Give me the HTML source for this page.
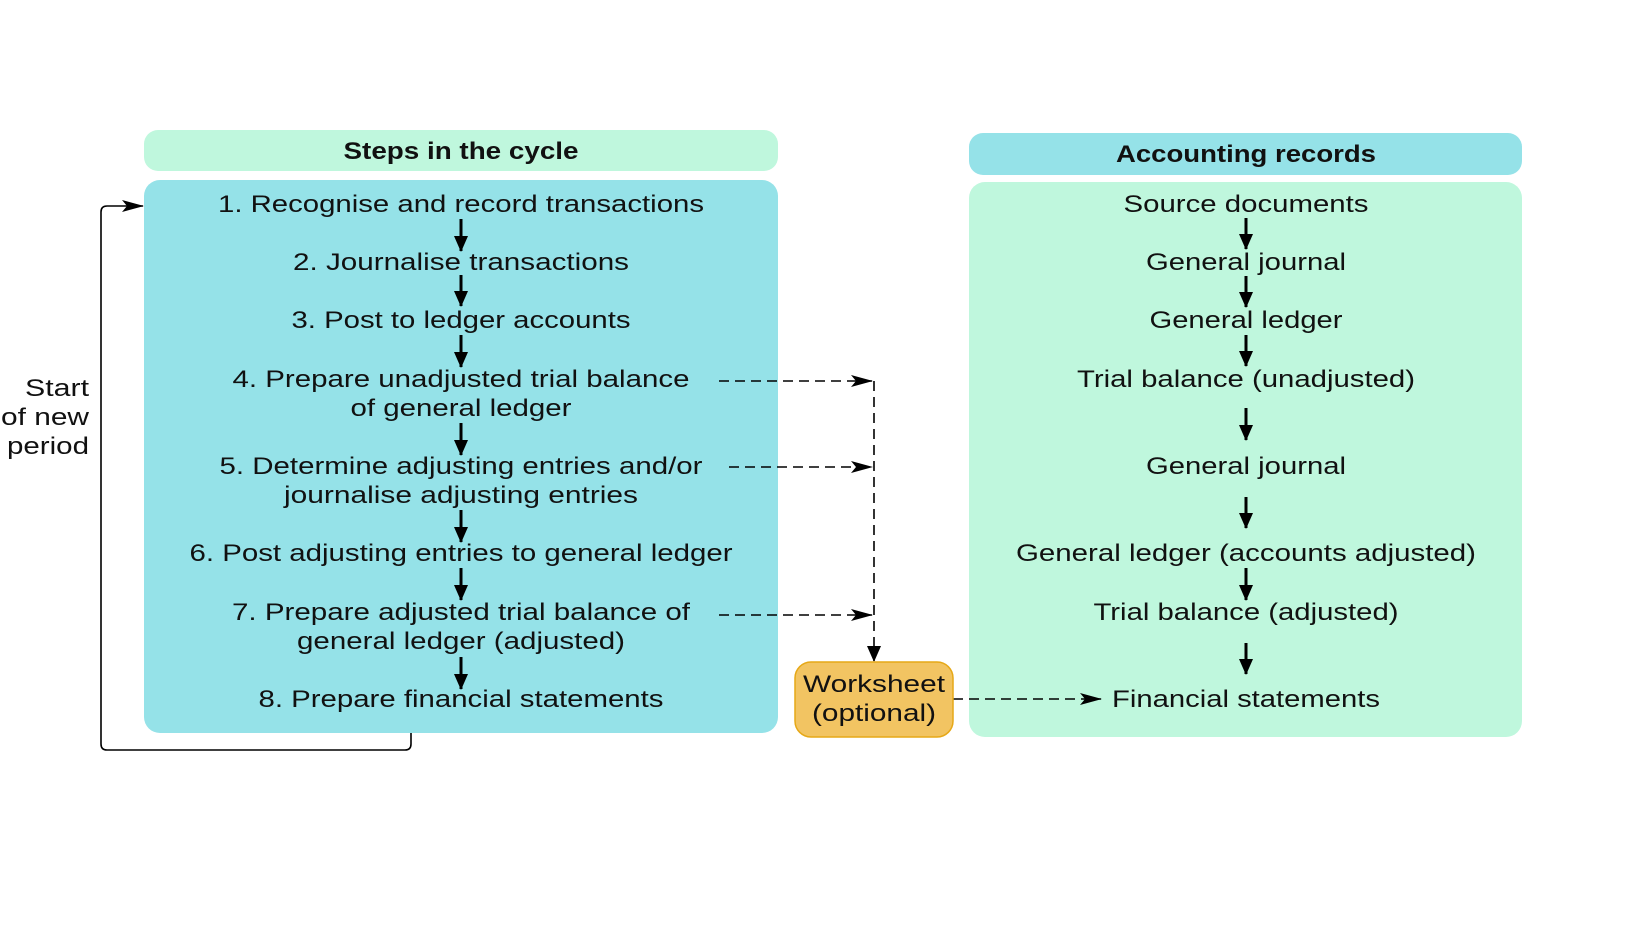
<!DOCTYPE html>
<html><head><meta charset="utf-8"><style>
html,body{margin:0;padding:0;background:#fff;}
svg{display:block;}
text{font-family:"Liberation Sans",sans-serif;font-size:24px;fill:#111;}
.b{font-weight:bold;}
</style></head><body>
<svg width="1649" height="934" viewBox="0 0 1649 934" xmlns="http://www.w3.org/2000/svg">
<defs>
<marker id="ah" markerWidth="16" markerHeight="14" refX="15" refY="7" orient="auto" markerUnits="userSpaceOnUse" viewBox="0 0 16 14"><path d="M0,0 L16,7 L0,14 z" fill="#000"/></marker>
<marker id="dh" markerWidth="22" markerHeight="12" refX="21" refY="6" orient="auto" markerUnits="userSpaceOnUse" viewBox="0 0 22 12"><path d="M0,0 L22,6 L0,12 L5,6 z" fill="#000"/></marker>
</defs>
<rect x="144" y="130" width="634" height="41" rx="14" fill="#bff7dd"/>
<text class="b" x="461" y="159" text-anchor="middle" textLength="235" lengthAdjust="spacingAndGlyphs">Steps in the cycle</text>
<rect x="144" y="180" width="634" height="553" rx="16" fill="#95e2e8"/>
<rect x="969" y="133" width="553" height="42" rx="14" fill="#95e2e8"/>
<text class="b" x="1246" y="162" text-anchor="middle" textLength="260" lengthAdjust="spacingAndGlyphs">Accounting records</text>
<rect x="969" y="182" width="553" height="555" rx="16" fill="#bff7dd"/>

<g text-anchor="middle">
<text x="461" y="212" textLength="486" lengthAdjust="spacingAndGlyphs">1. Recognise and record transactions</text>
<text x="461" y="270" textLength="336" lengthAdjust="spacingAndGlyphs">2. Journalise transactions</text>
<text x="461" y="328" textLength="339" lengthAdjust="spacingAndGlyphs">3. Post to ledger accounts</text>
<text x="461" y="387" textLength="457" lengthAdjust="spacingAndGlyphs">4. Prepare unadjusted trial balance</text>
<text x="461" y="416" textLength="221" lengthAdjust="spacingAndGlyphs">of general ledger</text>
<text x="461" y="474" textLength="483" lengthAdjust="spacingAndGlyphs">5. Determine adjusting entries and/or</text>
<text x="461" y="503" textLength="354" lengthAdjust="spacingAndGlyphs">journalise adjusting entries</text>
<text x="461" y="561" textLength="543" lengthAdjust="spacingAndGlyphs">6. Post adjusting entries to general ledger</text>
<text x="461" y="620" textLength="458" lengthAdjust="spacingAndGlyphs">7. Prepare adjusted trial balance of</text>
<text x="461" y="649" textLength="328" lengthAdjust="spacingAndGlyphs">general ledger (adjusted)</text>
<text x="461" y="707" textLength="405" lengthAdjust="spacingAndGlyphs">8. Prepare financial statements</text>

<text x="1246" y="212" textLength="245" lengthAdjust="spacingAndGlyphs">Source documents</text>
<text x="1246" y="270" textLength="200" lengthAdjust="spacingAndGlyphs">General journal</text>
<text x="1246" y="328" textLength="193" lengthAdjust="spacingAndGlyphs">General ledger</text>
<text x="1246" y="387" textLength="338" lengthAdjust="spacingAndGlyphs">Trial balance (unadjusted)</text>
<text x="1246" y="474" textLength="200" lengthAdjust="spacingAndGlyphs">General journal</text>
<text x="1246" y="561" textLength="460" lengthAdjust="spacingAndGlyphs">General ledger (accounts adjusted)</text>
<text x="1246" y="620" textLength="305" lengthAdjust="spacingAndGlyphs">Trial balance (adjusted)</text>
<text x="1246" y="707" textLength="268" lengthAdjust="spacingAndGlyphs">Financial statements</text>
</g>
<g text-anchor="end">
<text x="89" y="396" textLength="64" lengthAdjust="spacingAndGlyphs">Start</text>
<text x="89" y="425" textLength="88" lengthAdjust="spacingAndGlyphs">of new</text>
<text x="89" y="454" textLength="82" lengthAdjust="spacingAndGlyphs">period</text>
</g>

<g stroke="#000" stroke-width="3" marker-end="url(#ah)">
<line x1="461" y1="219" x2="461" y2="251"/>
<line x1="461" y1="275" x2="461" y2="306"/>
<line x1="461" y1="335" x2="461" y2="367"/>
<line x1="461" y1="423" x2="461" y2="455"/>
<line x1="461" y1="510" x2="461" y2="542"/>
<line x1="461" y1="568" x2="461" y2="600"/>
<line x1="461" y1="657" x2="461" y2="689"/>
<line x1="1246" y1="218" x2="1246" y2="249"/>
<line x1="1246" y1="276" x2="1246" y2="307"/>
<line x1="1246" y1="335" x2="1246" y2="366"/>
<line x1="1246" y1="408" x2="1246" y2="440"/>
<line x1="1246" y1="497" x2="1246" y2="528"/>
<line x1="1246" y1="568" x2="1246" y2="600"/>
<line x1="1246" y1="643" x2="1246" y2="674"/>
</g>

<path d="M411,733 V744 Q411,750 405,750 H107 Q101,750 101,744 V212 Q101,206 107,206 H143" fill="none" stroke="#000" stroke-width="1.6" marker-end="url(#dh)"/>

<g stroke="#000" stroke-width="1.6" stroke-dasharray="10,6" fill="none">
<line x1="719" y1="381" x2="872" y2="381" marker-end="url(#dh)"/>
<line x1="729" y1="467" x2="872" y2="467" marker-end="url(#dh)"/>
<line x1="719" y1="615" x2="872" y2="615" marker-end="url(#dh)"/>
<line x1="874" y1="381" x2="874" y2="661" marker-end="url(#ah)"/>
<line x1="953" y1="699" x2="1101" y2="699" marker-end="url(#dh)"/>
</g>

<rect x="795" y="662" width="158" height="75" rx="16" fill="#f2c462" stroke="#e6a817" stroke-width="1.5"/>
<text x="874" y="692" text-anchor="middle" textLength="142" lengthAdjust="spacingAndGlyphs">Worksheet</text>
<text x="874" y="721" text-anchor="middle" textLength="124" lengthAdjust="spacingAndGlyphs">(optional)</text>
</svg>
</body></html>
